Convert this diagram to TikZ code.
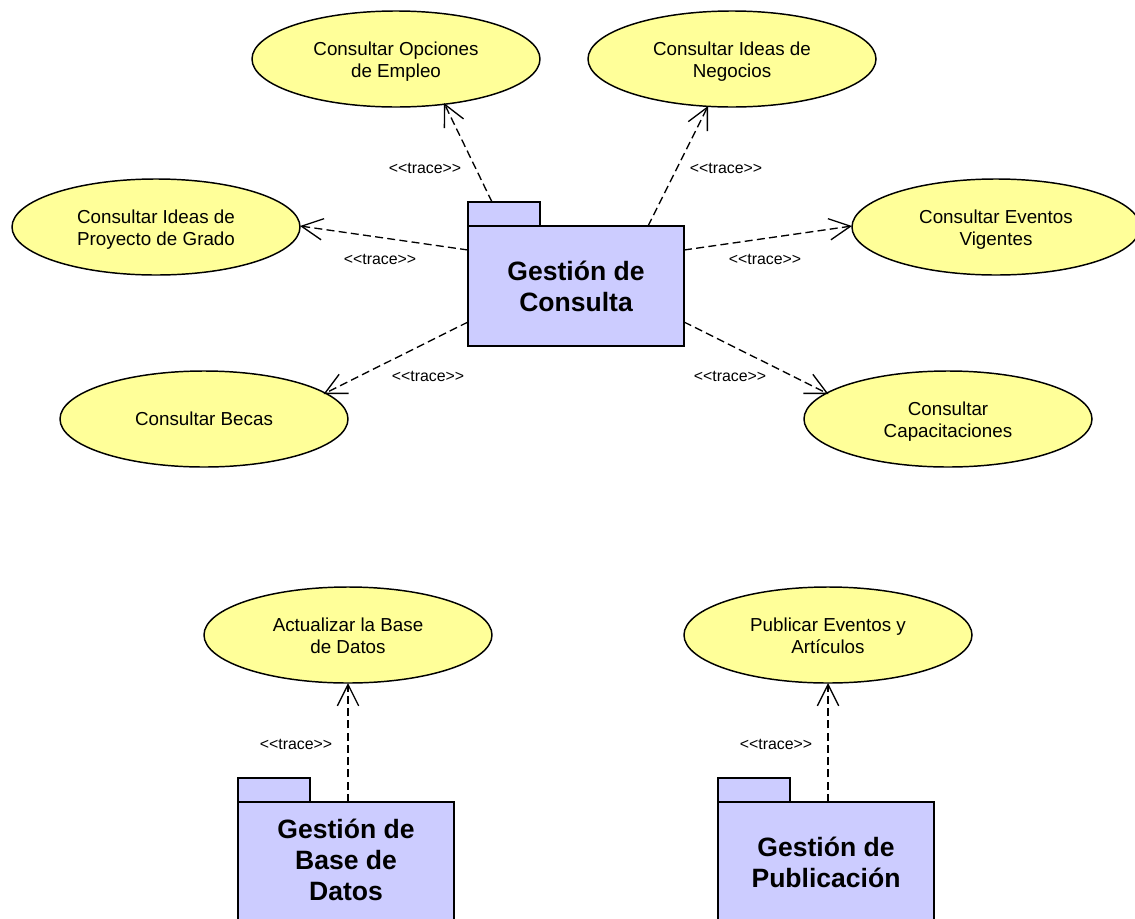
\documentclass[tikz,border=0pt]{standalone}
\usepackage{fontspec}
\setmainfont{Liberation Sans}
\usetikzlibrary{arrows.meta,shapes.geometric}
\definecolor{ucyellow}{RGB}{255,255,153}
\definecolor{pkgblue}{RGB}{204,204,255}
\tikzset{
x=0.75pt,y=-0.75pt,
uc/.style={draw=black,line width=1.1pt,fill=ucyellow,ellipse,minimum width=216pt,minimum height=72pt,inner sep=0pt,outer sep=0pt,align=center,font=\fontsize{14.1pt}{16.5pt}\selectfont},
uctext/.style={align=center,inner sep=0pt,yshift=-2.25pt,font=\fontsize{14.1pt}{16.5pt}\selectfont},
pkg/.style={draw=black,line width=1.2pt,fill=pkgblue,minimum width=162pt,minimum height=90pt,inner sep=0pt,outer sep=0pt},
pkgtab/.style={draw=black,line width=1.2pt,fill=pkgblue,minimum width=54pt,minimum height=18pt,inner sep=0pt,outer sep=0pt},
pkgtext/.style={align=center,font=\bfseries\fontsize{19.9pt}{23.2pt}\selectfont},
trace/.style={draw=black,line width=1pt,dash pattern=on 6pt off 3.2pt,-{Straight Barb[length=16pt,width=16pt,line width=1pt]}},
lbl/.style={font=\fontsize{11.9pt}{12pt}\selectfont,inner sep=0pt},
}
\begin{document}
\begin{tikzpicture}
\useasboundingbox (0,0) rectangle (1135,918);
\clip (0,0) rectangle (1135,918);
\node[uc,label={[uctext]center:{Consultar Opciones\\de Empleo}}] (opc) at (396,59) {};
\node[uc,label={[uctext]center:{Consultar Ideas de\\Negocios}}] (neg) at (732,59) {};
\node[uc,label={[uctext]center:{Consultar Ideas de\\Proyecto de Grado}}] (pro) at (156,227) {};
\node[uc,label={[uctext]center:{Consultar Eventos\\Vigentes}}] (eve) at (996,227) {};
\node[uc] (bec) at (204,419) {Consultar Becas};
\node[uc,label={[uctext]center:{Consultar\\Capacitaciones}}] (cap) at (948,419) {};
\node[uc,label={[uctext]center:{Actualizar la Base\\de Datos\vphantom{p}}}] (act) at (348,635) {};
\node[uc,label={[uctext]center:{Publicar Eventos y\\Artículos\vphantom{p}}}] (pub) at (828,635) {};
\node[pkgtab,anchor=north west] (t1) at (468,202) {};
\node[pkg,anchor=north west] (p1) at (468,226) {};
\node[pkgtext] (p1t) at (576,286.5) {Gestión de\\Consulta};
\node[pkgtab,anchor=north west] (t2) at (238,778) {};
\node[pkg,anchor=north west] (p2) at (238,802) {};
\node[pkgtext] (p2t) at (346,859.5) {Gestión de\\Base de\\Datos};
\node[pkgtab,anchor=north west] (t3) at (718,778) {};
\node[pkg,anchor=north west] (p3) at (718,802) {};
\node[pkgtext] (p3t) at (826,862) {Gestión de\\Publicación};
\coordinate (a1) at (492,202);
\coordinate (a2) at (648,226);
\coordinate (a3) at (468,250);
\coordinate (a4) at (684,250);
\coordinate (a5) at (468,322);
\coordinate (a6) at (684,322);
\coordinate (a7) at (348,802);
\coordinate (a8) at (828,802);
\coordinate (b1) at (444,103);
\coordinate (b2) at (708,106);
\coordinate (b3) at (300,226);
\coordinate (b4) at (852,226);
\coordinate (b5) at (323.5,394);
\coordinate (b6) at (828.5,394);
\coordinate (b7) at (348,683);
\coordinate (b8) at (828,683);
\draw[trace] (a1) -- (b1);
\draw[trace] (a2) -- (b2);
\draw[trace] (a3) -- (b3);
\draw[trace] (a4) -- (b4);
\draw[trace] (a5) -- (b5);
\draw[trace] (a6) -- (b6);
\draw[trace] (a7) -- (b7);
\draw[trace] (a8) -- (b8);
\node[lbl] (l1) at (425,168.5) {<{}<trace>{}>};
\node[lbl] (l2) at (726,168.5) {<{}<trace>{}>};
\node[lbl] (l3) at (380,259.5) {<{}<trace>{}>};
\node[lbl] (l4) at (765,259.5) {<{}<trace>{}>};
\node[lbl] (l5) at (428,376.5) {<{}<trace>{}>};
\node[lbl] (l6) at (730,376.5) {<{}<trace>{}>};
\node[lbl] (l7) at (296,744.5) {<{}<trace>{}>};
\node[lbl] (l8) at (776,744.5) {<{}<trace>{}>};
\end{tikzpicture}
\end{document}
